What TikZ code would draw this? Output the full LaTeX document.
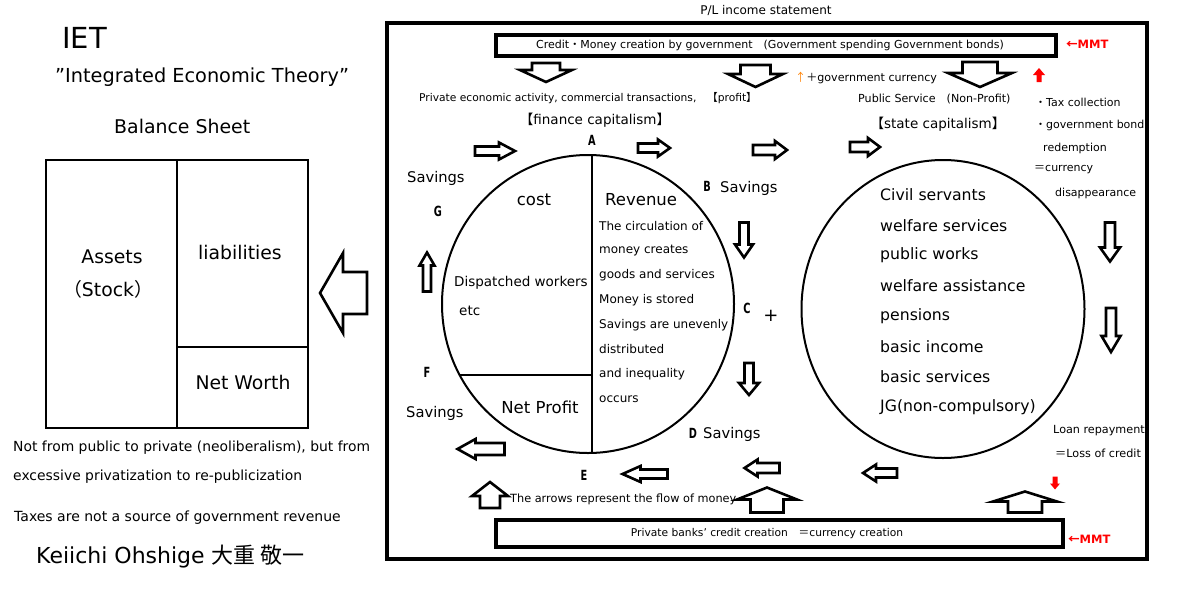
\documentclass[tikz,border=0pt]{standalone}
\usepackage{fontspec}
\setmainfont{DejaVu Sans}
\newfontfamily\jp{Noto Sans CJK JP}
\usetikzlibrary{shapes.geometric}
\newcommand{\fs}[1]{\fontsize{#1}{#1}\selectfont}
\newcommand{\blockarr}[7][barrowline]{%
  \draw[#1,shift={(#2)},rotate=#3] ({-#4/2},{-#7/2}) -- ({#4/2-#5},{-#7/2}) -- ({#4/2-#5},{-#6/2}) -- ({#4/2},0) -- ({#4/2-#5},{#6/2}) -- ({#4/2-#5},{#7/2}) -- ({-#4/2},{#7/2}) -- cycle;}
\tikzset{
  barrowline/.style={draw=black, line width=2.6pt, fill=white, line join=miter},
  redarrow/.style={fill=red, draw=none},
  lt/.style={inner sep=0pt, anchor=west},
  ct/.style={inner sep=0pt},
  lbl/.style={inner sep=0pt, font=\fs{14}\bfseries, xscale=0.7},
  mmt/.style={inner sep=0pt, anchor=west, text=red, font=\fs{11.5}\bfseries},
  circ/.style={draw, ellipse, line width=2pt, inner sep=0pt},
}
\begin{document}
\begin{tikzpicture}[x=1pt,y=-1pt]
\useasboundingbox (0,0) rectangle (1200,611);

% ---------- left side ----------
\node[lt, font=\fs{29}] (iet) at (62,38) {IET};
\node[lt, font=\fs{19.3}] (iettitle) at (55,77) {”Integrated Economic Theory”};
\node[lt, font=\fs{18.9}] (bstitle) at (114,126) {Balance Sheet};
\draw[line width=2pt] (46,160) rectangle (308,428);
\draw[line width=2pt] (177,160) -- (177,428);
\draw[line width=2.6pt] (177,347) -- (308,347);
\node[ct, font=\fs{18.8}] (assets) at (112,257) {Assets};
\node[ct, font=\fs{18.8}] (stock) at (108,289) {\jp（\rmfamily Stock\jp）};
\node[ct, font=\fs{18.8}] (liab) at (240,252) {liabilities};
\node[ct, font=\fs{18.8}] (networth) at (243,382) {Net Worth};
\node[lt, font=\fs{13.9}] (note1) at (13,448) {Not from public to private (neoliberalism), but from};
\node[lt, font=\fs{13.9}] (note2) at (13,477) {excessive privatization to re-publicization};
\node[lt, font=\fs{14}] (note3) at (14,518) {Taxes are not a source of government revenue};
\node[lt, font=\fs{22}] (author) at (36,557) {Keiichi Ohshige {\jp 大重 敬一}};
\blockarr{343.5,293}{180}{47}{23}{80}{42}

% ---------- P/L frame ----------
\node[ct, font=\fs{12}] (pl) at (766,10) {P/L income statement};
\draw[line width=4pt] (387,23) rectangle (1147,559);
\draw[line width=3.5pt] (496,35) rectangle (1056,56);
\node[ct, font=\fs{11}] (credit) at (770,45) {Credit{\jp ・}Money creation by government{\jp 　}(Government spending Government bonds)};
\node[mmt] (mmt1) at (1066,44) {{\jp ←}MMT};
\draw[line width=3.5pt] (496,520) rectangle (1063,547);
\node[ct, font=\fs{10.7}] (banks) at (767,534) {Private banks' credit creation{\jp 　＝}currency creation};
\node[mmt] (mmt2) at (1068,539) {{\jp ←}MMT};

% top down arrows
\blockarr{546,72.5}{270}{19}{12}{52}{28}
\blockarr{755.5,76}{270}{22}{13}{55}{30}
\blockarr{980,74.5}{270}{25}{14}{64}{35}
\blockarr[redarrow]{1039,75}{90}{14}{7}{12}{5}

\node[lt, font=\fs{11.1}] (govcur) at (795,78) {{\color{orange}\jp ↑}{\jp ＋}government currency};
\node[lt, font=\fs{10.7}] (private) at (419,98) {Private economic activity, commercial transactions,{\jp 　【}profit{\jp 】}};
\node[lt, font=\fs{11.1}] (public) at (858,99) {Public Service{\jp 　}(Non-Profit)};
\node[ct, font=\fs{13.5}] (finance) at (595,120) {{\jp 【}finance capitalism{\jp 】}};
\node[ct, font=\fs{13.5}] (state) at (938,124) {{\jp 【}state capitalism{\jp 】}};

\node[lt, font=\fs{11}] (tax1) at (1035,102) {{\jp ・}Tax collection};
\node[lt, font=\fs{11}] (tax2) at (1035,125) {{\jp ・}government bond};
\node[lt, font=\fs{11}] (tax3) at (1043,148) {redemption};
\node[lt, font=\fs{11}] (tax4) at (1034,170) {{\jp ＝}currency};
\node[lt, font=\fs{11}] (tax5) at (1055,193) {disappearance};

% ---------- left circle (private) ----------
\node[circ, minimum width=292pt, minimum height=298pt] (pc) at (588,304) {};
\draw[line width=2.6pt] (592,155) -- (592,453);
\draw[line width=2.6pt] (460,375) -- (592,375);
\node[lbl] (A) at (592,140) {A};
\node[lbl] (B) at (707,186) {B};
\node[lbl] (C) at (747,308) {C};
\node[lbl] (D) at (693,433) {D};
\node[lbl] (E) at (584,475) {E};
\node[lbl] (F) at (427,372) {F};
\node[lbl] (G) at (438,211) {G};
\node[ct, font=\fs{18}] (plus) at (771,316) {+};
\node[lt, font=\fs{14.7}] (savG) at (407,178) {Savings};
\node[lt, font=\fs{14.7}] (savB) at (720,188) {Savings};
\node[lt, font=\fs{14.7}] (savD) at (703,434) {Savings};
\node[lt, font=\fs{14.7}] (savF) at (406,413) {Savings};
\node[ct, font=\fs{16.5}] (cost) at (534,200) {cost};
\node[lt, font=\fs{16.5}] (rev) at (605,200) {Revenue};
\node[ct, font=\fs{16.5}] (netp) at (540,407) {Net Profit};
\node[lt, font=\fs{13.5}] (disp) at (454,283) {Dispatched workers};
\node[lt, font=\fs{13.5}] (etc) at (459,311) {etc};
\foreach \t [count=\i] in {The circulation of, money creates, goods and services, Money is stored, Savings are unevenly, distributed, and inequality, occurs}{
  \node[lt, font=\fs{12}] (rv\i) at (599,{226+24.7*(\i-1)}) {\t};
}

% ---------- right circle (public) ----------
\node[circ, minimum width=283pt, minimum height=298pt] (gc) at (943,309) {};
\foreach \t [count=\i] in {Civil servants, welfare services, public works, welfare assistance, pensions, basic income, basic services, JG(non-compulsory)}{
  \node[lt, font=\fs{15.7}] (gv\i) at (880,{195+30.3*(\i-1)}) {\t};
}
\node[lt, font=\fs{11.2}] (loan1) at (1053,431) {Loan repayment};
\node[lt, font=\fs{11.2}] (loan2) at (1055,453) {{\jp ＝}Loss of credit};
\node[lt, font=\fs{11.3}] (flow) at (510,499) {The arrows represent the flow of money};

% right arrows (top)
\blockarr{495,151}{0}{40}{16}{17}{9}
\blockarr{654,148}{0}{32}{12}{17}{9}
\blockarr{770,150}{0}{34}{12}{18}{10}
\blockarr{865,147}{0}{30}{12}{18}{10}
% down arrows
\blockarr{744,240}{270}{35}{13}{18}{9}
\blockarr{749,379}{270}{32}{12}{20}{9}
\blockarr{1110,242}{270}{39}{14}{20}{10}
\blockarr{1111,330}{270}{44}{16}{19}{10}
% up arrow left
\blockarr{427,272}{90}{39}{13}{15}{8}
% left arrows (bottom)
\blockarr{481,449}{180}{47}{18}{20}{12}
\blockarr{645,474}{180}{45}{18}{16}{9}
\blockarr{762,468}{180}{35}{13}{17}{10}
\blockarr{880,473}{180}{34}{13}{17}{9}
% up arrows from bottom box
\blockarr{490,495}{90}{26}{14}{36}{20}
\blockarr{767,500}{90}{25}{12}{60}{33}
\blockarr{1025,502}{90}{21}{10}{64}{34}
\blockarr[redarrow]{1055,483}{270}{13}{6}{10}{5}
\end{tikzpicture}
\end{document}
